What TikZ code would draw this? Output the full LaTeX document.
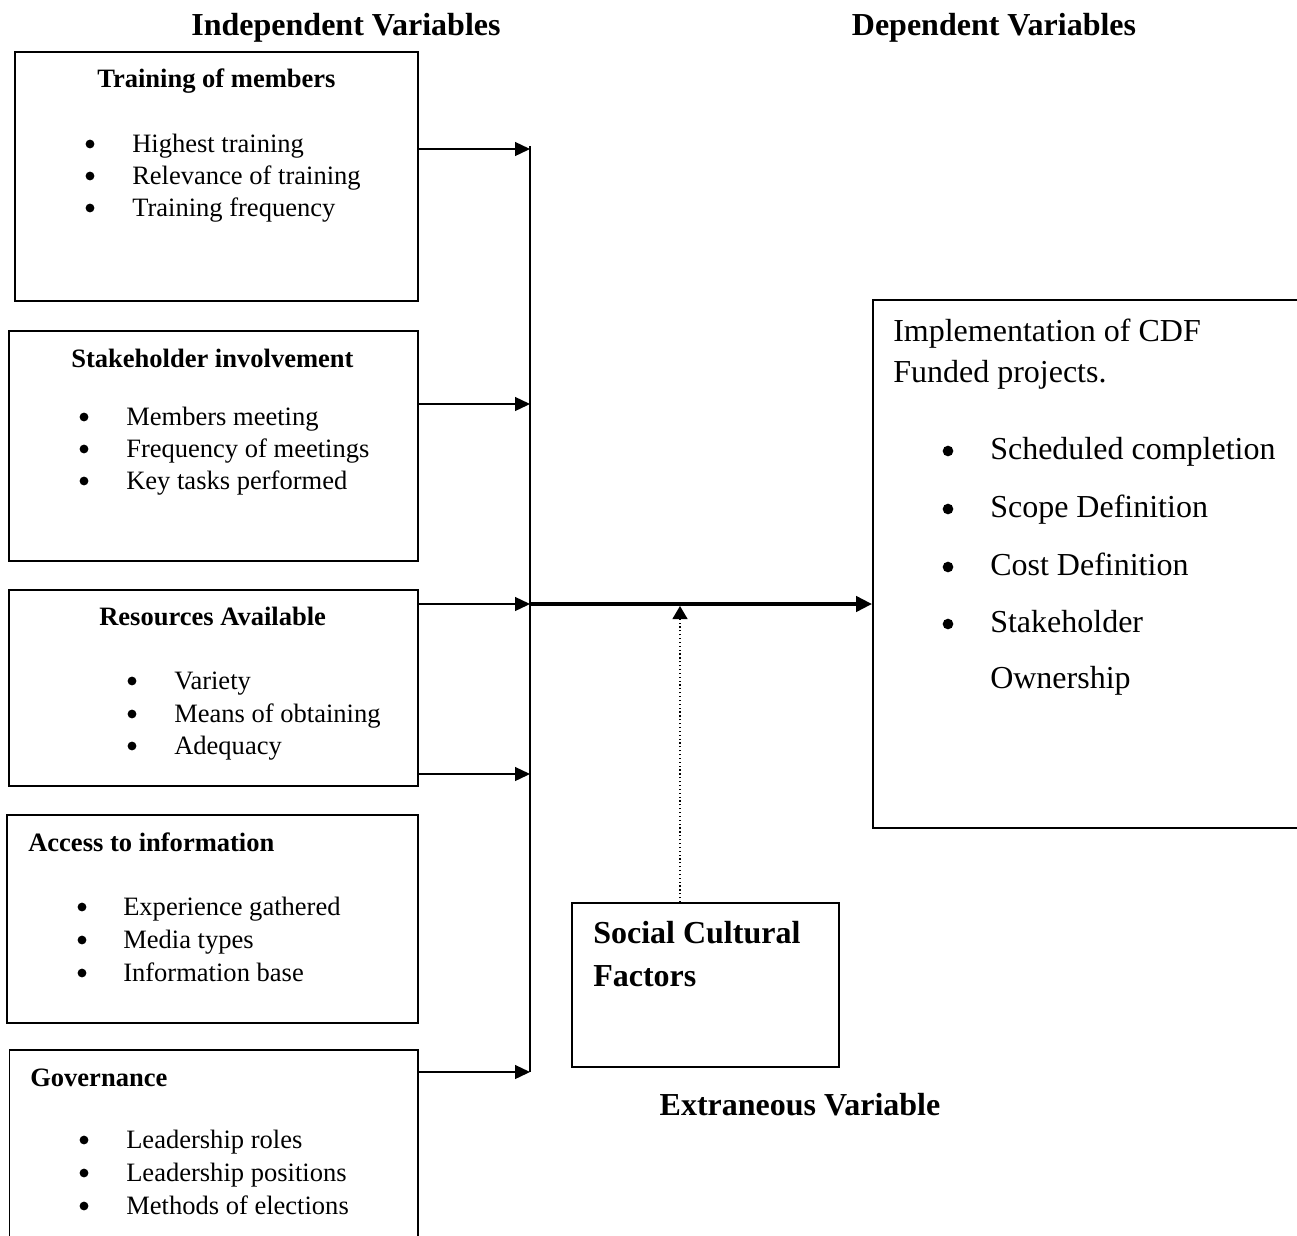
\documentclass[tikz,border=0pt]{standalone}
\usepackage{fontspec}
\setmainfont{Liberation Serif}
\usetikzlibrary{arrows.meta,fit}
\begin{document}
\begin{tikzpicture}[x=0.75pt,y=-0.75pt,
  box/.style={draw, line width=1.3pt, inner sep=0pt},
  body/.style={font=\fontsize{19.9pt}{24pt}\selectfont, inner sep=0pt, anchor=base west},
  bhead/.style={font=\fontsize{19.9pt}{24pt}\selectfont\bfseries, inner sep=0pt, anchor=base west},
  bul/.style={circle, fill=black, inner sep=0pt, minimum size=6.6pt},
  big/.style={font=\fontsize{24pt}{29pt}\selectfont, inner sep=0pt, anchor=base west},
  bigbul/.style={circle, fill=black, inner sep=0pt, minimum size=8pt},
  bigbold/.style={font=\fontsize{24pt}{29pt}\selectfont\bfseries, inner sep=0pt, anchor=base west},
  title/.style={font=\fontsize{24pt}{29pt}\selectfont\bfseries, inner sep=0pt, anchor=base},
  link/.style={line width=1pt, -{Triangle[length=11.25pt,width=10.5pt]}},
  bus/.style={line width=1.3pt},
  mainarrow/.style={line width=3pt, -{Triangle[length=12pt,width=11.25pt]}},
  infl/.style={line width=0.9pt, dotted, -{Triangle[length=9.75pt,width=11.25pt]}}
]
\useasboundingbox (0,0) rectangle (1297,1236);
\clip (0,0) rectangle (1297,1236);

% box corners
\coordinate (b1nw) at (15,52);   \coordinate (b1se) at (418,301);
\coordinate (b2nw) at (9,331);   \coordinate (b2se) at (418,561);
\coordinate (b3nw) at (9,590);   \coordinate (b3se) at (418,786);
\coordinate (b4nw) at (7,815);   \coordinate (b4se) at (418,1023);
\coordinate (b5nw) at (9.5,1050);\coordinate (b5se) at (418,1270);
\coordinate (dnw) at (873,300);  \coordinate (dse) at (1330,828);
\coordinate (snw) at (572,903);  \coordinate (sse) at (839,1067);

\node[box, fit=(b1nw)(b1se)] (b1) {};
\node[box, fit=(b2nw)(b2se)] (b2) {};
\node[box, fit=(b3nw)(b3se)] (b3) {};
\node[box, fit=(b4nw)(b4se)] (b4) {};
\node[box, fit=(b5nw)(b5se)] (b5) {};
\node[box, fit=(dnw)(dse)] (dep) {};
\node[box, fit=(snw)(sse)] (soc) {};

% titles
\node[title] (tind) at (346,35) {Independent Variables};
\node[title] (tdep) at (994,35) {Dependent Variables};
\node[title] (text) at (800,1115) {Extraneous Variable};

% box 1
\node[bhead] (h1) at (97,87) {Training of members};
\node[bul] (u11) at (90,144) {}; \node[body] (t11) at (132,152) {Highest training};
\node[bul] (u12) at (90,176) {}; \node[body] (t12) at (132,184) {Relevance of training};
\node[bul] (u13) at (90,208) {}; \node[body] (t13) at (132,216) {Training frequency};

% box 2
\node[bhead] (h2) at (71,367) {Stakeholder involvement};
\node[bul] (u21) at (84,417) {}; \node[body] (t21) at (126,425) {Members meeting};
\node[bul] (u22) at (84,449) {}; \node[body] (t22) at (126,457) {Frequency of meetings};
\node[bul] (u23) at (84,481) {}; \node[body] (t23) at (126,489) {Key tasks performed};

% box 3
\node[bhead] (h3) at (99,625) {Resources Available};
\node[bul] (u31) at (132,681) {}; \node[body] (t31) at (174,689) {Variety};
\node[bul] (u32) at (132,714) {}; \node[body] (t32) at (174,722) {Means of obtaining};
\node[bul] (u33) at (132,746) {}; \node[body] (t33) at (174,754) {Adequacy};

% box 4
\node[bhead] (h4) at (28,851) {Access to information};
\node[bul] (u41) at (82,907) {}; \node[body] (t41) at (123,915) {Experience gathered};
\node[bul] (u42) at (82,940) {}; \node[body] (t42) at (123,948) {Media types};
\node[bul] (u43) at (82,973) {}; \node[body] (t43) at (123,981) {Information base};

% box 5
\node[bhead] (h5) at (30,1086) {Governance};
\node[bul] (u51) at (84,1140) {}; \node[body] (t51) at (126,1148) {Leadership roles};
\node[bul] (u52) at (84,1173) {}; \node[body] (t52) at (126,1181) {Leadership positions};
\node[bul] (u53) at (84,1206) {}; \node[body] (t53) at (126,1214) {Methods of elections};

% dependent box
\node[big] (d1) at (893,341) {Implementation of CDF};
\node[big] (d2) at (893,382) {Funded projects.};
\node[bigbul] (v1) at (948,451) {}; \node[big] (e1) at (990,459) {Scheduled completion};
\node[bigbul] (v2) at (948,509) {}; \node[big] (e2) at (990,517) {Scope Definition};
\node[bigbul] (v3) at (948,567) {}; \node[big] (e3) at (990,575) {Cost Definition};
\node[bigbul] (v4) at (948,624) {}; \node[big] (e4) at (990,632) {Stakeholder};
\node[big] (e5) at (990,688) {Ownership};

% social box
\node[bigbold] (s1) at (593,943) {Social Cultural};
\node[bigbold] (s2) at (593,986) {Factors};

% connectors
\coordinate (j1) at (530,149);
\coordinate (j2) at (530,404);
\coordinate (j3) at (530,604);
\coordinate (j4) at (530,774);
\coordinate (j5) at (530,1072);
\coordinate (jt) at (530,146);
\coordinate (hit) at (680,606);

\draw[bus] (jt) -- (j5);
\draw[link] (b1.east |- j1) -- (j1);
\draw[link] (b2.east |- j2) -- (j2);
\draw[link] (b3.east |- j3) -- (j3);
\draw[link] (b3.east |- j4) -- (j4);
\draw[link] (b5.east |- j5) -- (j5);
\draw[mainarrow] (j3) -- (dep.west |- j3);
\draw[infl] (soc.north -| hit) -- (hit);
\end{tikzpicture}
\end{document}
